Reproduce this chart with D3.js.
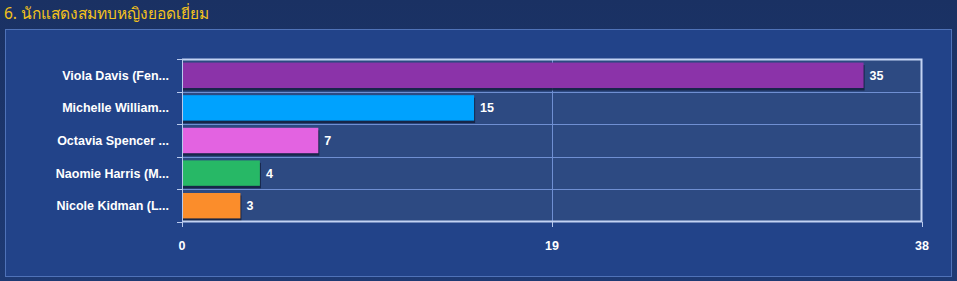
<!DOCTYPE html>
<html>
<head>
<meta charset="utf-8">
<script src="https://cdn.jsdelivr.net/npm/d3@7"></script>
<style>
  html, body { margin: 0; padding: 0; background: #1c3466; }
  svg { display: block; }
</style>
</head>
<body>
<svg id="chart" width="957" height="281"></svg>
<script>
// chart data
const title = "6. นักแสดงสมทบหญิงยอดเยี่ยม";
const actresses = ["Viola Davis (Fen...", "Michelle William...", "Octavia Spencer ...", "Naomie Harris (M...", "Nicole Kidman (L..."];
const votes = [35, 15, 7, 4, 3];
const barColors = ["#8b33a9", "#00a2fe", "#e363e1", "#27b866", "#fb8d2b"];
const xTicks = [0, 19, 38];

const labelFont = "'Liberation Sans', Arial, sans-serif";
const svg = d3.select("#chart");

// background + panel
const bg = svg.append("defs").append("linearGradient")
    .attr("id", "pagebg").attr("x1", 0).attr("y1", 0).attr("x2", 0).attr("y2", 1);
bg.append("stop").attr("offset", "0%").attr("stop-color", "#1a3163");
bg.append("stop").attr("offset", "100%").attr("stop-color", "#1e3a74");
svg.append("rect").attr("width", 957).attr("height", 281).attr("fill", "url(#pagebg)");

svg.append("text")
    .attr("x", 4).attr("y", 19)
    .attr("fill", "#f3c21b")
    .style("font-family", "'Noto Sans', 'DejaVu Sans', sans-serif")
    .style("font-size", "15.5px")
    .text(title);

svg.append("rect")
    .attr("x", 5.5).attr("y", 29.5).attr("width", 946).attr("height", 247)
    .attr("fill", "#224389").attr("stroke", "#4f72b8");

// plot
const margin = {left: 182, top: 59, right: 35, bottom: 59};
const w = 957 - margin.left - margin.right;
const h = 281 - margin.top - margin.bottom;

const g = svg.append("g").attr("transform", `translate(${margin.left},${margin.top})`);

const x = d3.scaleLinear().domain([0, 38]).range([0, w]);
const y = d3.scaleBand().domain(actresses).range([0, h]).paddingInner(0.22).paddingOuter(0.11);

g.append("rect").attr("width", w).attr("height", h).attr("fill", "#2d4a82");

// gridlines
const rowEdges = d3.range(actresses.length + 1).map(i => i * h / actresses.length);
g.selectAll(".hgrid").data(rowEdges.slice(1, -1)).join("line")
    .attr("x1", 0).attr("x2", w)
    .attr("y1", d => Math.round(d) + 0.5).attr("y2", d => Math.round(d) + 0.5)
    .attr("stroke", "#6f8fd2").attr("stroke-width", 1);
g.selectAll(".vgrid").data(xTicks.slice(1, -1)).join("line")
    .attr("x1", d => Math.round(x(d)) + 0.5).attr("x2", d => Math.round(x(d)) + 0.5)
    .attr("y1", 0).attr("y2", h)
    .attr("stroke", "#6f8fd2");

// bars with shadow
const bars = g.selectAll(".bar").data(actresses).join("g");
bars.append("rect")
    .attr("x", 1).attr("y", d => y(d) + 2.5)
    .attr("width", (d, i) => x(votes[i]))
    .attr("height", y.bandwidth())
    .attr("fill", "#14203f").attr("opacity", 0.85);
bars.append("rect")
    .attr("x", 1).attr("y", d => y(d))
    .attr("width", (d, i) => x(votes[i]) - 1)
    .attr("height", y.bandwidth())
    .attr("fill", (d, i) => barColors[i]);

bars.append("text")
    .attr("x", (d, i) => x(votes[i]) + 6)
    .attr("y", d => y(d) + y.bandwidth() / 2 + 4.5)
    .attr("fill", "#ffffff")
    .style("font-family", labelFont)
    .style("font-size", "12.5px").style("font-weight", "bold")
    .text((d, i) => votes[i]);

// frame
g.append("path")
    .attr("d", `M0,0.5H${w - 0.5}V${h - 0.5}H0`)
    .attr("fill", "none").attr("stroke", "#c3d3f3").attr("stroke-width", 2);
g.append("line").attr("x1", 0.5).attr("x2", 0.5).attr("y1", 0).attr("y2", h + 5)
    .attr("stroke", "#b8c9ec");

// y axis ticks + labels
g.selectAll(".ytick").data(rowEdges).join("line")
    .attr("x1", -5).attr("x2", 0)
    .attr("y1", d => Math.round(d) + 0.5).attr("y2", d => Math.round(d) + 0.5)
    .attr("stroke", "#b8c9ec");
g.selectAll(".ylab").data(actresses).join("text")
    .attr("x", -13)
    .attr("y", d => y(d) + y.bandwidth() / 2 + 4.5)
    .attr("text-anchor", "end")
    .attr("fill", "#ffffff")
    .style("font-family", labelFont)
    .style("font-size", "12.5px").style("font-weight", "bold")
    .text(d => d);

// x axis ticks + labels
g.selectAll(".xtick").data(xTicks).join("line")
    .attr("x1", d => Math.round(x(d)) + 0.5).attr("x2", d => Math.round(x(d)) + 0.5)
    .attr("y1", h).attr("y2", h + 5)
    .attr("stroke", "#b8c9ec");
g.selectAll(".xlab").data(xTicks).join("text")
    .attr("x", d => x(d))
    .attr("y", h + 28)
    .attr("text-anchor", "middle")
    .attr("fill", "#ffffff")
    .style("font-family", labelFont)
    .style("font-size", "12.5px").style("font-weight", "bold")
    .text(d => d);
</script>
</body>
</html>
